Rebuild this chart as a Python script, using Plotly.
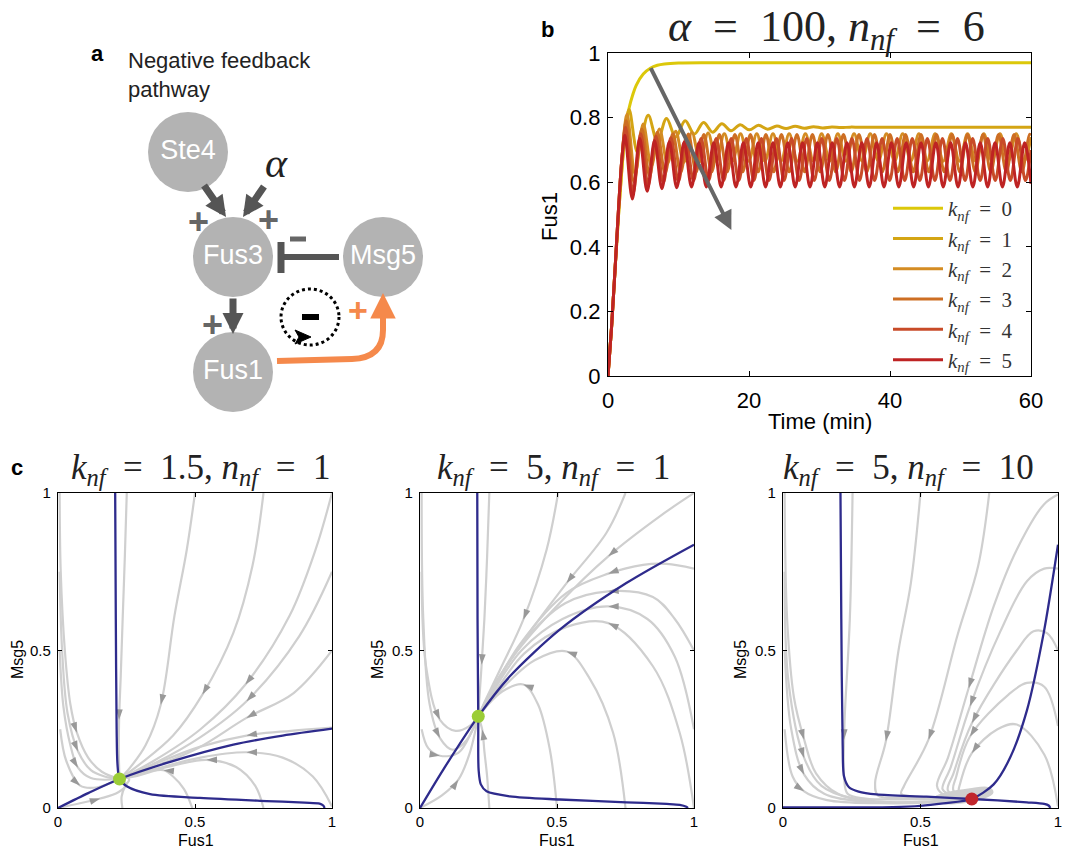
import math
import plotly.graph_objects as go

W, H = 1065, 848

# ---------------- Panel b : Fus1 time courses ----------------
KNF_LABELS = ["0", "1", "2", "3", "4", "5"]
KNF_COLORS = ["#DCC80A", "#D4A514", "#D48C23", "#CD6E23", "#C84B28", "#BE2323"]

T_K0 = [0, 0.5, 1.0, 1.5, 2.0, 2.5, 3.0, 3.5, 4.0, 5.0, 6.0, 7.0, 8.0, 10.0, 15.0, 60.0]
F_K0 = [0, 0.15, 0.33, 0.5, 0.65, 0.76, 0.83, 0.87, 0.90, 0.935, 0.953, 0.962, 0.966, 0.969, 0.97, 0.97]

T_K1 = [0, 0.5, 1.0, 1.5, 2.0, 2.5, 3.0, 4.2, 5.7, 7.0, 8.3, 9.6, 10.95, 12.25, 13.55, 14.85,
        16.15, 17.45, 18.75, 20.05, 21.35, 22.65, 23.95, 25.25, 26.55, 27.85, 29.15, 30.45,
        31.75, 33.05, 34.35, 36.0, 60.0]
F_K1 = [0, 0.15, 0.33, 0.5, 0.65, 0.77, 0.825, 0.692, 0.807, 0.726, 0.797, 0.74, 0.79, 0.749,
        0.785, 0.755, 0.781, 0.759, 0.778, 0.762, 0.776, 0.764, 0.774, 0.766, 0.773, 0.767,
        0.772, 0.768, 0.771, 0.769, 0.7705, 0.77, 0.77]

T_K2 = [0, 0.5, 1.0, 1.5, 2.0,
        2.7, 3.85, 5.0, 6.15, 7.3, 8.45, 9.6, 10.75, 11.9, 13.05,
        14.2, 15.35, 16.5, 17.65, 18.8, 19.95, 21.1, 22.25, 23.4, 24.55,
        25.7, 26.85, 28.0, 29.15, 30.3, 31.45, 32.6, 33.75, 34.9, 36.05,
        37.2, 38.35, 39.5, 40.65, 41.8, 42.95, 44.1, 45.25, 46.4, 47.55,
        48.7, 49.85, 51.0, 52.15, 53.3, 54.45, 55.6, 56.75, 57.9, 59.05,
        60.0]
F_K2 = [0, 0.15, 0.33, 0.52, 0.68,
        0.81, 0.625, 0.78, 0.65, 0.765, 0.658, 0.758, 0.662, 0.754, 0.664,
        0.752, 0.665, 0.75, 0.665, 0.75, 0.665, 0.75, 0.665, 0.75, 0.665,
        0.75, 0.665, 0.75, 0.665, 0.75, 0.665, 0.75, 0.665, 0.75, 0.665,
        0.75, 0.665, 0.75, 0.665, 0.75, 0.665, 0.75, 0.665, 0.75, 0.665,
        0.75, 0.665, 0.75, 0.665, 0.75, 0.665, 0.75, 0.665, 0.75, 0.665,
        0.74]

T_K3 = [0, 0.5, 1.0, 1.5, 2.0,
        2.6, 3.7, 4.8, 5.9, 7.0, 8.1, 9.2, 10.3, 11.4, 12.5,
        13.6, 14.7, 15.8, 16.9, 18.0, 19.1, 20.2, 21.3, 22.4, 23.5,
        24.6, 25.7, 26.8, 27.9, 29.0, 30.1, 31.2, 32.3, 33.4, 34.5,
        35.6, 36.7, 37.8, 38.9, 40.0, 41.1, 42.2, 43.3, 44.4, 45.5,
        46.6, 47.7, 48.8, 49.9, 51.0, 52.1, 53.2, 54.3, 55.4, 56.5,
        57.6, 58.7, 59.8, 60.0]
F_K3 = [0, 0.15, 0.33, 0.52, 0.68,
        0.79, 0.60, 0.765, 0.62, 0.755, 0.628, 0.75, 0.63, 0.749, 0.632,
        0.748, 0.632, 0.748, 0.632, 0.748, 0.632, 0.748, 0.632, 0.748, 0.632,
        0.748, 0.632, 0.748, 0.632, 0.748, 0.632, 0.748, 0.632, 0.748, 0.632,
        0.748, 0.632, 0.748, 0.632, 0.748, 0.632, 0.748, 0.632, 0.748, 0.632,
        0.748, 0.632, 0.748, 0.632, 0.748, 0.632, 0.748, 0.632, 0.748, 0.632,
        0.748, 0.632, 0.748, 0.745]

T_K4 = [0, 0.5, 1.0, 1.5, 2.0,
        2.5, 3.57, 4.64, 5.71, 6.78, 7.85, 8.92, 9.99, 11.06, 12.13,
        13.2, 14.27, 15.34, 16.41, 17.48, 18.55, 19.62, 20.69, 21.76, 22.83,
        23.9, 24.97, 26.04, 27.11, 28.18, 29.25, 30.32, 31.39, 32.46, 33.53,
        34.6, 35.67, 36.74, 37.81, 38.88, 39.95, 41.02, 42.09, 43.16, 44.23,
        45.3, 46.37, 47.44, 48.51, 49.58, 50.65, 51.72, 52.79, 53.86, 54.93,
        56.0, 57.07, 58.14, 59.21, 60.0]
F_K4 = [0, 0.15, 0.33, 0.52, 0.68,
        0.77, 0.565, 0.75, 0.59, 0.742, 0.598, 0.738, 0.602, 0.736, 0.604,
        0.735, 0.605, 0.735, 0.605, 0.735, 0.605, 0.735, 0.605, 0.735, 0.605,
        0.735, 0.605, 0.735, 0.605, 0.735, 0.605, 0.735, 0.605, 0.735, 0.605,
        0.735, 0.605, 0.735, 0.605, 0.735, 0.605, 0.735, 0.605, 0.735, 0.605,
        0.735, 0.605, 0.735, 0.605, 0.735, 0.605, 0.735, 0.605, 0.735, 0.605,
        0.735, 0.605, 0.735, 0.605, 0.70]

T_K5 = [0, 0.5, 1.0, 1.5, 2.0,
        2.4, 3.45, 4.5, 5.55, 6.6, 7.65, 8.7, 9.75, 10.8, 11.85,
        12.9, 13.95, 15.0, 16.05, 17.1, 18.15, 19.2, 20.25, 21.3, 22.35,
        23.4, 24.45, 25.5, 26.55, 27.6, 28.65, 29.7, 30.75, 31.8, 32.85,
        33.9, 34.95, 36.0, 37.05, 38.1, 39.15, 40.2, 41.25, 42.3, 43.35,
        44.4, 45.45, 46.5, 47.55, 48.6, 49.65, 50.7, 51.75, 52.8, 53.85,
        54.9, 55.95, 57.0, 58.05, 59.1, 60.0]
F_K5 = [0, 0.15, 0.33, 0.52, 0.68,
        0.745, 0.548, 0.735, 0.572, 0.728, 0.58, 0.725, 0.583, 0.724, 0.585,
        0.722, 0.585, 0.722, 0.585, 0.722, 0.585, 0.722, 0.585, 0.722, 0.585,
        0.722, 0.585, 0.722, 0.585, 0.722, 0.585, 0.722, 0.585, 0.722, 0.585,
        0.722, 0.585, 0.722, 0.585, 0.722, 0.585, 0.722, 0.585, 0.722, 0.585,
        0.722, 0.585, 0.722, 0.585, 0.722, 0.585, 0.722, 0.585, 0.722, 0.585,
        0.722, 0.585, 0.722, 0.585, 0.722, 0.595]

B_TIMES = [T_K0, T_K1, T_K2, T_K3, T_K4, T_K5]
B_FUS1 = [F_K0, F_K1, F_K2, F_K3, F_K4, F_K5]
B_XTICKS = [0, 20, 40, 60]
B_YTICKS = [0, 0.2, 0.4, 0.6, 0.8, 1]
B_YTICKTEXT = ["0", "0.2", "0.4", "0.6", "0.8", "1"]
B_TREND = (5.96, 0.958, 17.5, 0.452)   # grey trend arrow (tail t, tail y, tip t, tip y)

# ---------------- Panel c : phase planes (Fus1, Msg5) ----------------
C_TICKS = [0, 0.5, 1]
C_TICKTEXT = ["0", "0.5", "1"]

C1_FP = (0.2245, 0.092)
C1_NULL_FUS1 = [(0.2087, 1.0), (0.211, 0.6), (0.214, 0.25), (0.217, 0.14), (0.2245, 0.092), (0.251, 0.069),
                (0.336, 0.044), (0.518, 0.032), (0.761, 0.022), (0.9, 0.017), (0.955, 0.014), (0.968, 0.008),
                (0.973, 0.0)]
C1_NULL_MSG5 = [(0.0, 0.0), (0.112, 0.048), (0.2245, 0.092), (0.397, 0.143), (0.64, 0.201), (0.82, 0.23),
                (1.0, 0.252)]
C1_TRAJ = [
    [(0.251, 1.0), (0.244, 0.8), (0.236, 0.6), (0.229, 0.42), (0.223, 0.28), (0.222, 0.17), (0.2245, 0.092)],
    [(0.5, 1.0), (0.47, 0.82), (0.425, 0.61), (0.375, 0.328), (0.32, 0.2), (0.26, 0.125), (0.2245, 0.092)],
    [(0.75, 1.0), (0.71, 0.77), (0.64, 0.556), (0.527, 0.36), (0.42, 0.23), (0.3, 0.14), (0.2245, 0.092)],
    [(1.0, 1.0), (0.94, 0.82), (0.845, 0.61), (0.684, 0.392), (0.52, 0.25), (0.35, 0.15), (0.2245, 0.092)],
    [(1.0, 0.75), (0.88, 0.545), (0.688, 0.339), (0.52, 0.225), (0.36, 0.145), (0.2245, 0.092)],
    [(1.0, 0.5), (0.86, 0.365), (0.688, 0.286), (0.51, 0.19), (0.34, 0.128), (0.2245, 0.092)],
    [(1.0, 0.255), (0.85, 0.245), (0.688, 0.23), (0.52, 0.195), (0.36, 0.142), (0.2245, 0.092)],
    [(1.0, 0.005), (0.93, 0.1), (0.82, 0.16), (0.688, 0.177), (0.52, 0.16), (0.36, 0.125), (0.2245, 0.092)],
    [(0.75, 0.0), (0.72, 0.07), (0.65, 0.13), (0.542, 0.153), (0.4, 0.13), (0.28, 0.1), (0.2245, 0.092)],
    [(0.49, 0.0), (0.46, 0.06), (0.42, 0.1), (0.385, 0.12), (0.3, 0.11), (0.2245, 0.092)],
    [(0.235, 0.0), (0.232, 0.035), (0.245, 0.07), (0.26, 0.09), (0.245, 0.1), (0.2245, 0.092)],
    [(0.0, 0.0), (0.08, 0.015), (0.154, 0.03), (0.22, 0.05), (0.25, 0.075), (0.2245, 0.092)],
    [(0.006, 1.0), (0.01, 0.75), (0.025, 0.5), (0.045, 0.33), (0.069, 0.239), (0.11, 0.16), (0.16, 0.115),
     (0.2245, 0.092)],
    [(0.006, 0.75), (0.015, 0.5), (0.035, 0.3), (0.073, 0.18), (0.12, 0.12), (0.17, 0.1), (0.2245, 0.092)],
    [(0.006, 0.5), (0.02, 0.32), (0.045, 0.2), (0.073, 0.128), (0.12, 0.095), (0.2245, 0.092)],
    [(0.008, 0.25), (0.03, 0.15), (0.081, 0.071), (0.14, 0.065), (0.2245, 0.092)],
]
C1_ARROW_AT = [4, 3, 3, 3, 2, 2, 2, 3, 3, 3, None, 2, 4, 3, 3, 2]

C2_FP = (0.2126, 0.291)
C2_NULL_FUS1 = [(0.209, 1.0), (0.21, 0.6), (0.2126, 0.291), (0.214, 0.12), (0.222, 0.075), (0.243, 0.053),
                (0.328, 0.037), (0.51, 0.027), (0.753, 0.018), (0.9, 0.013), (0.948, 0.01), (0.972, 0.004),
                (0.978, 0.0)]
C2_NULL_MSG5 = [(0.0, 0.0), (0.085, 0.122), (0.2126, 0.291), (0.328, 0.418), (0.51, 0.566), (0.753, 0.714),
                (1.0, 0.836)]
C2_TRAJ = [
    [(0.253, 1.0), (0.245, 0.8), (0.235, 0.6), (0.225, 0.455), (0.216, 0.34), (0.2126, 0.291)],
    [(0.253, 0.0), (0.245, 0.1), (0.235, 0.18), (0.227, 0.249), (0.2126, 0.291)],
    [(0.504, 1.0), (0.462, 0.82), (0.377, 0.598), (0.292, 0.439), (0.235, 0.335), (0.2126, 0.291)],
    [(0.75, 1.0), (0.68, 0.873), (0.535, 0.714), (0.389, 0.545), (0.27, 0.39), (0.2126, 0.291)],
    [(1.0, 1.0), (0.875, 0.926), (0.687, 0.799), (0.51, 0.651), (0.34, 0.481), (0.245, 0.345), (0.2126, 0.291)],
    [(1.0, 0.76), (0.9, 0.775), (0.814, 0.772), (0.687, 0.744), (0.535, 0.683), (0.365, 0.52), (0.25, 0.35),
     (0.2126, 0.291)],
    [(1.0, 0.5), (0.93, 0.6), (0.85, 0.67), (0.687, 0.688), (0.53, 0.65), (0.37, 0.52), (0.25, 0.35),
     (0.2126, 0.291)],
    [(1.0, 0.25), (0.93, 0.48), (0.83, 0.6), (0.687, 0.64), (0.52, 0.6), (0.37, 0.5), (0.25, 0.345),
     (0.2126, 0.291)],
    [(1.0, 0.0), (0.948, 0.238), (0.85, 0.45), (0.687, 0.587), (0.535, 0.575), (0.38, 0.49), (0.26, 0.35),
     (0.2126, 0.291)],
    [(0.75, 0.0), (0.705, 0.238), (0.62, 0.41), (0.535, 0.497), (0.42, 0.47), (0.3, 0.38), (0.2126, 0.291)],
    [(0.5, 0.0), (0.474, 0.185), (0.43, 0.33), (0.377, 0.392), (0.3, 0.37), (0.24, 0.32), (0.2126, 0.291)],
    [(0.006, 1.0), (0.012, 0.6), (0.035, 0.33), (0.073, 0.222), (0.12, 0.185), (0.17, 0.215), (0.2126, 0.291)],
    [(0.006, 0.75), (0.022, 0.45), (0.073, 0.28), (0.13, 0.245), (0.18, 0.26), (0.2126, 0.291)],
    [(0.006, 0.25), (0.03, 0.19), (0.073, 0.166), (0.14, 0.175), (0.19, 0.245), (0.2126, 0.291)],
    [(0.0, 0.0), (0.08, 0.04), (0.14, 0.09), (0.18, 0.17), (0.2126, 0.291)],
]
C2_ARROW_AT = [3, 3, 2, 2, 2, 3, 3, 3, 3, 3, 3, 3, 2, 2, 2]

C3_FP = (0.6865, 0.0286)
C3_NULL_FUS1 = [(0.209, 1.0), (0.212, 0.6), (0.217, 0.2), (0.222, 0.1), (0.24, 0.066), (0.275, 0.052),
                (0.34, 0.043), (0.522, 0.036), (0.6865, 0.0286), (0.887, 0.018), (0.95, 0.013), (0.966, 0.008),
                (0.972, 0.0)]
C3_NULL_MSG5 = [(0.0, 0.002), (0.2, 0.002), (0.4, 0.003), (0.5, 0.007), (0.583, 0.015), (0.6865, 0.0286),
                (0.766, 0.075), (0.826, 0.16), (0.887, 0.31), (0.948, 0.556), (1.0, 0.836)]
C3_TRAJ = [
    [(0.006, 1.0), (0.015, 0.6), (0.04, 0.35), (0.077, 0.217), (0.12, 0.11), (0.2, 0.045), (0.35, 0.02),
     (0.5, 0.02), (0.6865, 0.0286)],
    [(0.006, 0.75), (0.02, 0.4), (0.077, 0.159), (0.14, 0.07), (0.25, 0.03), (0.4, 0.018), (0.55, 0.02),
     (0.6865, 0.0286)],
    [(0.006, 0.5), (0.03, 0.25), (0.077, 0.106), (0.15, 0.045), (0.3, 0.02), (0.5, 0.018), (0.6865, 0.0286)],
    [(0.006, 0.25), (0.035, 0.1), (0.077, 0.053), (0.16, 0.025), (0.35, 0.015), (0.55, 0.018), (0.6865, 0.0286)],
    [(0.253, 1.0), (0.243, 0.6), (0.225, 0.3), (0.222, 0.217), (0.222, 0.1), (0.235, 0.045), (0.3, 0.03),
     (0.5, 0.028), (0.6865, 0.0286)],
    [(0.5, 1.0), (0.465, 0.714), (0.42, 0.5), (0.374, 0.212), (0.335, 0.08), (0.345, 0.04), (0.45, 0.032),
     (0.6865, 0.0286)],
    [(0.75, 1.0), (0.71, 0.77), (0.635, 0.55), (0.529, 0.217), (0.44, 0.07), (0.43, 0.045), (0.5, 0.035),
     (0.6865, 0.0286)],
    [(1.0, 0.995), (0.948, 0.963), (0.85, 0.82), (0.766, 0.64), (0.675, 0.38), (0.6, 0.16), (0.56, 0.07),
     (0.58, 0.045), (0.6865, 0.0286)],
    [(1.0, 0.76), (0.95, 0.76), (0.887, 0.72), (0.79, 0.56), (0.68, 0.323), (0.61, 0.13), (0.58, 0.06),
     (0.6, 0.045), (0.6865, 0.0286)],
    [(1.0, 0.5), (0.96, 0.555), (0.911, 0.561), (0.85, 0.5), (0.687, 0.27), (0.62, 0.11), (0.6, 0.055),
     (0.6865, 0.0286)],
    [(1.0, 0.26), (0.95, 0.385), (0.887, 0.397), (0.82, 0.36), (0.68, 0.227), (0.63, 0.1), (0.62, 0.055),
     (0.6865, 0.0286)],
    [(1.0, 0.005), (0.95, 0.17), (0.85, 0.265), (0.78, 0.25), (0.687, 0.175), (0.645, 0.08), (0.64, 0.05),
     (0.6865, 0.0286)],
]
C3_ARROW_AT = [3, 2, 2, 2, 3, 3, 3, 4, 4, 4, 4, 4]
C3_CYCLE = [(0.55, 0.03), (0.6, 0.046), (0.68, 0.058), (0.745, 0.062), (0.76, 0.05), (0.73, 0.034),
            (0.66, 0.02), (0.58, 0.017), (0.55, 0.03)]

EQ = "&nbsp;&nbsp;=&nbsp;&nbsp;"
C_TITLES = ["<i>k</i><sub><i>nf</i></sub>" + EQ + "1.5, <i>n</i><sub><i>nf</i></sub>" + EQ + "1",
            "<i>k</i><sub><i>nf</i></sub>" + EQ + "5, <i>n</i><sub><i>nf</i></sub>" + EQ + "1",
            "<i>k</i><sub><i>nf</i></sub>" + EQ + "5, <i>n</i><sub><i>nf</i></sub>" + EQ + "10"]

# ---------------- Panel a : pathway diagram (drawn in pixel units) ----------------
NODE_NAMES = ["Ste4", "Fus3", "Msg5", "Fus1"]
NODE_X = [188, 233, 383, 233]
NODE_Y = [152, 257, 257, 372]

# ---------------- styles ----------------
SANS = "Liberation Sans"
SERIF = "Liberation Serif"
TRAJ_COLOR = "#CFCFCF"
ARROW_COLOR = "#999999"
NULL_COLOR = "#2E2B8C"
GREEN = "#9BCD37"
RED = "#C1272D"
DARK = "#555555"
ORANGE = "#F5894B"

fig = go.Figure()

# ---- panel b traces
for lab, col, tt, ff in zip(KNF_LABELS, KNF_COLORS, B_TIMES, B_FUS1):
    fig.add_trace(go.Scatter(
        x=tt, y=ff, mode="lines", line=dict(color=col, width=3, shape="spline", smoothing=1),
        name="<i>k</i><sub><i>nf</i></sub>" + EQ + lab, legendgroup="k" + lab,
        xaxis="x", yaxis="y", hoverinfo="skip"))

# ---- panel c traces
C_PANELS = [
    ("x2", "y2", C1_TRAJ, C1_ARROW_AT, C1_NULL_FUS1, C1_NULL_MSG5, C1_FP, GREEN, None),
    ("x3", "y3", C2_TRAJ, C2_ARROW_AT, C2_NULL_FUS1, C2_NULL_MSG5, C2_FP, GREEN, None),
    ("x4", "y4", C3_TRAJ, C3_ARROW_AT, C3_NULL_FUS1, C3_NULL_MSG5, C3_FP, RED, C3_CYCLE),
]
SX, SY = 274.0, 315.0  # pixel size of each phase-plane box

for xa, ya, trajs, arrow_at, n1, n2, fp, fpcol, cyc in C_PANELS:
    for tr in trajs:
        fig.add_trace(go.Scatter(x=[p[0] for p in tr], y=[p[1] for p in tr], mode="lines",
                                 line=dict(color=TRAJ_COLOR, width=2.2, shape="spline"),
                                 xaxis=xa, yaxis=ya, showlegend=False, hoverinfo="skip"))
    if cyc is not None:
        fig.add_trace(go.Scatter(x=[p[0] for p in cyc], y=[p[1] for p in cyc], mode="lines",
                                 fill="toself", fillcolor=TRAJ_COLOR,
                                 line=dict(color=TRAJ_COLOR, width=3, shape="spline"),
                                 xaxis=xa, yaxis=ya, showlegend=False, hoverinfo="skip"))
    ax_, ay_, ang = [], [], []
    for tr, i in zip(trajs, arrow_at):
        if i is None:
            continue
        (x0, y0), (x1, y1) = tr[i - 1], tr[i + 1]
        ax_.append(tr[i][0])
        ay_.append(tr[i][1])
        ang.append(math.degrees(math.atan2((x1 - x0) * SX, (y1 - y0) * SY)))
    fig.add_trace(go.Scatter(x=ax_, y=ay_, mode="markers",
                             marker=dict(symbol="arrow", size=11, angle=ang, color=ARROW_COLOR,
                                         line=dict(width=0)),
                             xaxis=xa, yaxis=ya, showlegend=False, hoverinfo="skip"))
    for nc in (n1, n2):
        fig.add_trace(go.Scatter(x=[p[0] for p in nc], y=[p[1] for p in nc], mode="lines",
                                 line=dict(color=NULL_COLOR, width=2.3, shape="spline", smoothing=0.8),
                                 xaxis=xa, yaxis=ya, showlegend=False, hoverinfo="skip"))
    fig.add_trace(go.Scatter(x=[fp[0]], y=[fp[1]], mode="markers",
                             marker=dict(size=13, color=fpcol, line=dict(width=0)),
                             xaxis=xa, yaxis=ya, showlegend=False, hoverinfo="skip"))

# ---- panel a nodes
fig.add_trace(go.Scatter(x=NODE_X, y=NODE_Y, mode="markers+text", text=NODE_NAMES,
                         textposition="middle center",
                         textfont=dict(family=SANS, size=27, color="white"),
                         marker=dict(size=80, color="#B3B3B3", line=dict(width=0)),
                         xaxis="x5", yaxis="y5", showlegend=False, hoverinfo="skip"))

# ---------------- axes ----------------
def dom_x(a, b):
    return [a / W, b / W]

def dom_y(top, bottom):
    return [1 - bottom / H, 1 - top / H]

axis_common = dict(showline=True, linecolor="black", linewidth=1.3, mirror="ticks", ticks="inside",
                   tickcolor="black", showgrid=False, zeroline=False, fixedrange=True, automargin=False)

layout = dict(
    width=W, height=H, margin=dict(l=0, r=0, t=0, b=0, pad=0, autoexpand=False),
    paper_bgcolor="white", plot_bgcolor="rgba(0,0,0,0)",
    font=dict(family=SANS, color="black"),
    xaxis=dict(domain=dom_x(608, 1031), anchor="y", range=[0, 60], tickvals=B_XTICKS, ticklen=5,
               tickfont=dict(size=22), ticklabelstandoff=4, **axis_common),
    yaxis=dict(domain=dom_y(53, 376), anchor="x", range=[0, 1], tickvals=B_YTICKS, ticktext=B_YTICKTEXT,
               ticklen=5, tickfont=dict(size=22), ticklabelstandoff=2, **axis_common),
    legend=dict(x=888 / W, y=1 - 188 / H, xanchor="left", yanchor="top", bgcolor="rgba(0,0,0,0)",
                font=dict(family=SERIF, size=21, color="#333333"), tracegroupgap=1, traceorder="normal",
                itemwidth=50),
    showlegend=True,
)
c_boxes = [(58, 332), (420, 694), (783, 1058)]
for k, (l, r) in enumerate(c_boxes):
    n = k + 2
    layout["xaxis%d" % n] = dict(domain=dom_x(l, r), anchor="y%d" % n, range=[0, 1], tickvals=C_TICKS,
                                 ticktext=C_TICKTEXT, ticklen=4, tickfont=dict(size=15),
                                 ticklabelstandoff=0, **axis_common)
    layout["yaxis%d" % n] = dict(domain=dom_y(493, 808), anchor="x%d" % n, range=[0, 1], tickvals=C_TICKS,
                                 ticktext=C_TICKTEXT, ticklen=4, tickfont=dict(size=15),
                                 ticklabelstandoff=3, **axis_common)
layout["xaxis5"] = dict(domain=[0, 0.5], anchor="y5", range=[0, W * 0.5], visible=False, fixedrange=True)
layout["yaxis5"] = dict(domain=[0.5, 1], anchor="x5", range=[H * 0.5, 0], visible=False, fixedrange=True)
fig.update_layout(**layout)

# ---------------- annotations ----------------
ann = []

def ptext(text, x, y, size, family=SANS, color="black", bold=False, xanchor="center", yanchor="middle",
          angle=0, align="center"):
    t = "<b>%s</b>" % text if bold else text
    ann.append(dict(text=t, x=x / W, y=1 - y / H, xref="paper", yref="paper", showarrow=False,
                    xanchor=xanchor, yanchor=yanchor, textangle=angle, align=align,
                    font=dict(family=family, size=size, color=color)))

# panel letters
ptext("a", 97, 54, 22, bold=True)
ptext("b", 547, 30, 22, bold=True)
ptext("c", 17, 467, 22, bold=True)
ptext("Negative feedback<br>pathway", 126, 46, 22, color="#222222", xanchor="left", yanchor="top",
      align="left")

# panel b titles
ptext("<i>α</i>" + EQ + "100, <i>n</i><sub><i>nf</i></sub>" + EQ + "6",
      826, 30, 44, family=SERIF, color="#222222")
ptext("Time (min)", 820, 421, 22)
ptext("Fus1", 549, 217, 22, angle=-90)

# panel c titles
for title, cx in zip(C_TITLES, [200, 553, 908]):
    ptext(title, cx, 470, 35, family=SERIF, color="#222222")
for cx, my in zip([196, 557, 921], [17, 377, 740]):
    ptext("Fus1", cx, 840, 16)
    ptext("Msg5", my, 660, 16, angle=-90)

# panel b grey trend arrow
ann.append(dict(x=B_TREND[2], y=B_TREND[3], ax=B_TREND[0], ay=B_TREND[1], xref="x", yref="y",
                axref="x", ayref="y", text="", showarrow=True, arrowhead=2, arrowsize=0.95,
                arrowwidth=4, arrowcolor="#666666", standoff=0, startstandoff=0))

# panel a arrows (pixel units of the hidden diagram axes)
def darrow(tail, tip, color, width, size):
    ann.append(dict(x=tip[0], y=tip[1], ax=tail[0], ay=tail[1], xref="x5", yref="y5", axref="x5",
                    ayref="y5", text="", showarrow=True, arrowhead=2, arrowsize=size, arrowwidth=width,
                    arrowcolor=color, standoff=0, startstandoff=0))

darrow((203, 184), (226, 217), DARK, 7, 0.6)
darrow((265, 185), (243, 217), DARK, 7, 0.6)
darrow((233, 297), (233, 334), DARK, 7, 0.6)
darrow((383, 324), (383, 293), ORANGE, 6, 0.85)

def dtext(text, x, y, size, color, family=SANS, bold=True, italic=False):
    t = text
    if italic:
        t = "<i>%s</i>" % t
    if bold:
        t = "<b>%s</b>" % t
    ann.append(dict(text=t, x=x, y=y, xref="x5", yref="y5", showarrow=False, xanchor="center",
                    yanchor="middle", font=dict(family=family, size=size, color=color)))

dtext("+", 198, 221, 36, "#666666")
dtext("+", 268, 219, 36, "#666666")
dtext("+", 212, 324, 36, "#666666")
dtext("+", 358, 310, 34, ORANGE)
dtext("α", 276, 163, 42, "#222222", family=SERIF, bold=False, italic=True)

fig.update_layout(annotations=ann)

# panel a shapes
shapes = [
    dict(type="line", x0=339, y0=257, x1=283, y1=257, line=dict(color=DARK, width=6)),
    dict(type="line", x0=281, y0=242, x1=281, y1=273, line=dict(color=DARK, width=7)),
    dict(type="line", x0=290, y0=239, x1=306, y1=239, line=dict(color="#666666", width=5)),
    dict(type="circle", x0=281, x1=339, y0=289, y1=345, line=dict(color="black", width=3, dash="dot")),
    dict(type="path", path="M 295 330 L 311 337 L 295 344 L 299 337 Z", fillcolor="black",
         line=dict(color="black", width=1)),
    dict(type="line", x0=302, y0=317, x1=319, y1=317, line=dict(color="black", width=6)),
    dict(type="path", path="M 277 361 L 352 359 Q 383 358 383 330 L 383 320",
         line=dict(color=ORANGE, width=6)),
]
for s in shapes:
    s["xref"] = "x5"
    s["yref"] = "y5"
    s["layer"] = "above"
fig.update_layout(shapes=shapes)

fig.write_html("out.html")
